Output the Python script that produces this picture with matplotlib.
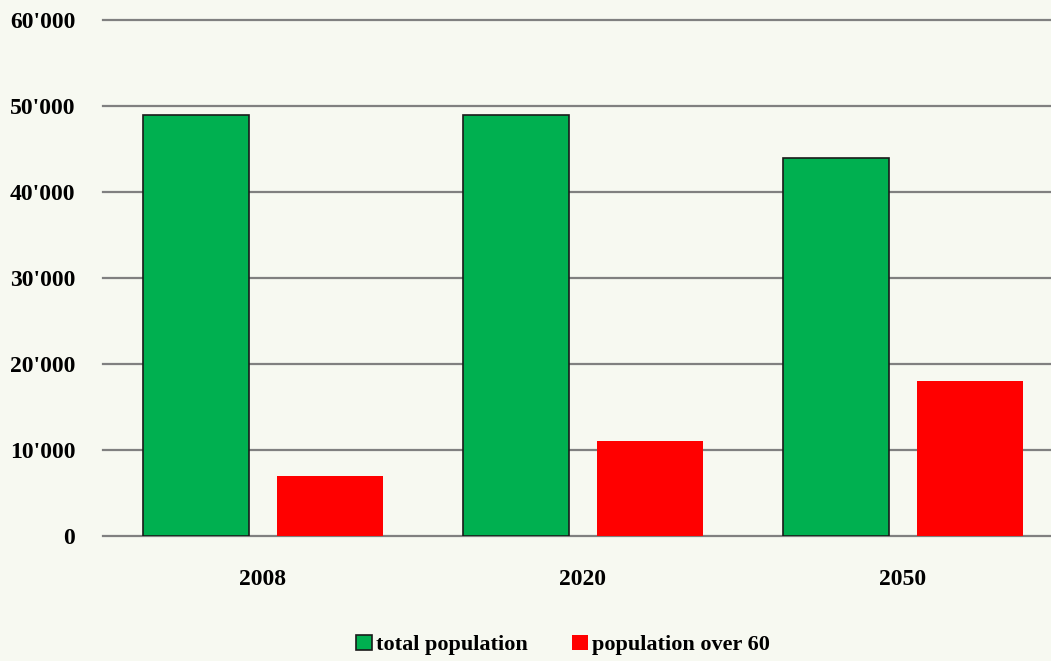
import matplotlib.pyplot as plt
import numpy as np

years = ['2008', '2020', '2050']
total_population = [49000, 49000, 44000]
population_over_60 = [7000, 11000, 18000]
y_ticks = [0, 10000, 20000, 30000, 40000, 50000, 60000]
y_labels = ['0', "10'000", "20'000", "30'000", "40'000", "50'000", "60'000"]

plt.rcParams['font.family'] = ['Liberation Serif', 'DejaVu Serif']
plt.rcParams['font.weight'] = 'bold'

fig = plt.figure(figsize=(10.51, 6.61), dpi=100, facecolor='#f7f9f1')
ax = fig.add_axes([103 / 1051, 1 - 536 / 661, 1 - 103 / 1051, (536 - 20) / 661])
ax.set_facecolor('#f7f9f1')

x = np.arange(len(years))
ax.bar(x - 0.21, total_population, width=0.33, color='#00b050',
       edgecolor='#1a1a1a', linewidth=1.2, label='total population', zorder=3)
ax.bar(x + 0.21, population_over_60, width=0.33, color='#ff0000',
       edgecolor='none', label='population over 60', zorder=3)

ax.set_ylim(0, 60000)
ax.set_xlim(-0.5, (1051 - 103) / 320 - 0.5)
ax.set_yticks(y_ticks)
ax.set_yticklabels(y_labels, fontsize=17)
ax.set_xticks(x)
ax.set_xticklabels(years, fontsize=17)
ax.tick_params(axis='y', length=0, pad=20)
ax.tick_params(axis='x', length=0, pad=24)
ax.yaxis.grid(True, color='#808080', linewidth=1.6, zorder=1)
for gl in ax.get_ygridlines():
    gl.set_clip_on(False)
ax.set_axisbelow(True)
for s in ax.spines.values():
    s.set_visible(False)

handles, labels = ax.get_legend_handles_labels()
fig.legend(handles, labels, loc='center', bbox_to_anchor=(0.536, 1 - 645 / 661),
           ncol=2, frameon=False, fontsize=16, handlelength=0.7, handleheight=0.7,
           handletextpad=0.2, columnspacing=2.0)

fig.savefig('out.png', dpi=100, facecolor=fig.get_facecolor())
